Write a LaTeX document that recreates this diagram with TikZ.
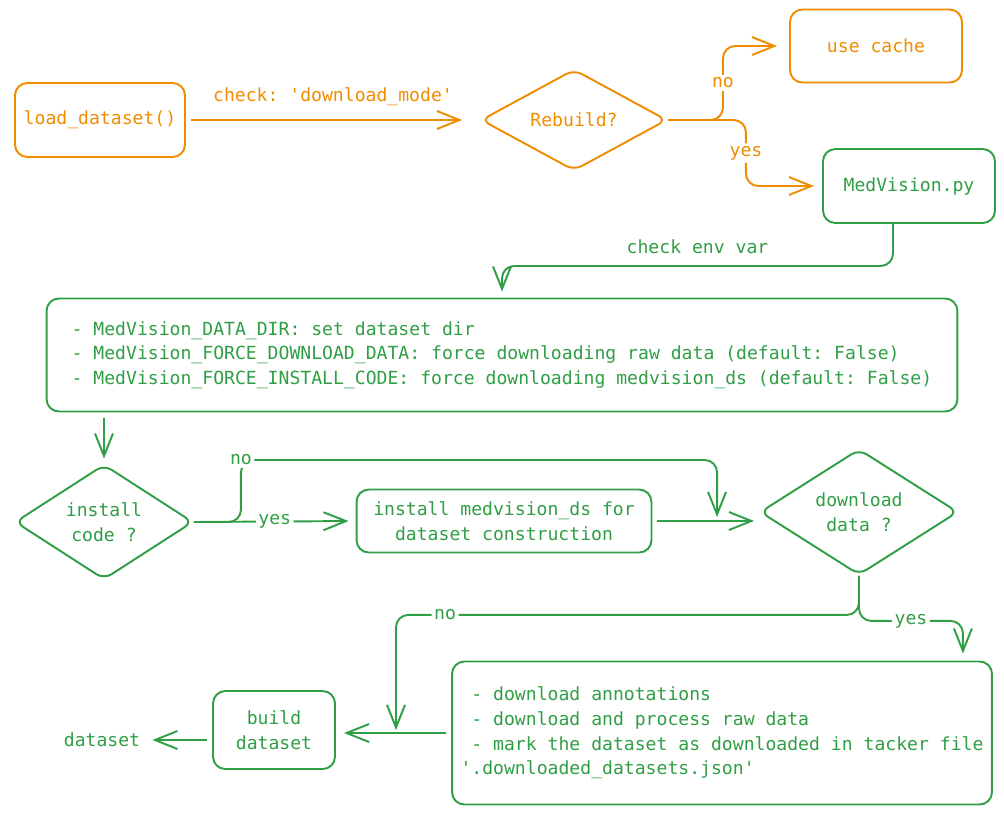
\documentclass[tikz,border=0pt]{standalone}
\usepackage{fontspec}
\setmonofont{DejaVu Sans Mono}
\usetikzlibrary{positioning, arrows.meta, shapes.geometric, calc}
\definecolor{exOrange}{HTML}{F08C00}
\definecolor{exGreen}{HTML}{2F9E44}

\begin{document}
\begin{tikzpicture}[
    x=0.02cm, y=-0.02cm,
    font=\ttfamily\fontsize{10.3}{14}\selectfont,
    >={Straight Barb[length=4.5mm, width=3.6mm]},
    box/.style={rounded corners=7pt, draw=#1, text=#1, line width=1.1pt,
        align=center, inner sep=4pt},
    decision/.style={diamond, rounded corners=5pt, draw=#1, text=#1,
        line width=1.1pt, align=center, inner sep=0pt},
    flow/.style={->, draw=#1, line width=1.1pt, rounded corners=7pt},
    tag/.style={fill=white, text=#1, inner sep=1.5pt}
  ]
    \useasboundingbox (0,0) rectangle (1004,816);
    % top row
    \node[box=exOrange, minimum width=3.4cm, minimum height=1.48cm] (load) at (100,120) {load\_dataset()};
    \node[decision=exOrange, minimum width=3.72cm, minimum height=2.02cm] (rebuild) at (574,120) {Rebuild?};
    \node[box=exOrange, minimum width=3.44cm, minimum height=1.46cm] (cache) at (876,46) {use cache};
    \node[box=exGreen, minimum width=3.44cm, minimum height=1.48cm] (medvision) at (909,186) {MedVision.py};
    \draw[flow=exOrange, shorten <=0.1cm, shorten >=0.36cm] (load) -- node[above=4pt, text=exOrange] {check: 'download\_mode'} (rebuild);
    \draw[flow=exOrange, shorten >=0.24cm] (rebuild.east) -- ++(55,0) |- node[tag=exOrange, pos=0.25] {no} (cache.west);
    \draw[flow=exOrange, shorten >=0.16cm] (rebuild.east) -- ++(78,0) |- node[tag=exOrange, pos=0.25] {yes} (medvision.west);
    % env vars
    \node[box=exGreen, minimum width=18.22cm, minimum height=2.26cm, align=left] (envvars) at (502,355)
        {- MedVision\_DATA\_DIR: set dataset dir\\
         - MedVision\_FORCE\_DOWNLOAD\_DATA: force downloading raw data (default: False)\\
         - MedVision\_FORCE\_INSTALL\_CODE: force downloading medvision\_ds (default: False)};
    \draw[flow=exGreen, shorten >=0.12cm] ([xshift=-0.32cm]medvision.south) -- ++(0,42) -| node[pos=0.25, above=3pt, text=exGreen] {check env var} (envvars.north);
    % install code
    \node[decision=exGreen, minimum width=3.56cm, minimum height=2.3cm] (installq) at (104,522) {install\\code ?};
    \node[box=exGreen, minimum width=5.9cm, minimum height=1.26cm] (installbox) at (504,521) {install medvision\_ds for\\dataset construction};
    \node[decision=exGreen, minimum width=3.96cm, minimum height=2.24cm] (downloadq) at (859,512) {download\\data ?};
    \coordinate (join) at ($(downloadq.west)+(-42,5)$);
    \draw[flow=exGreen, shorten <=0.12cm, shorten >=0.1cm] (envvars.south -| installq.north) -- (installq.north);
    \draw[flow=exGreen, shorten >=0.14cm] (installq.east) -- node[tag=exGreen] {yes} (installbox.west);
    \draw[flow=exGreen] (installq.east) -| ++(47,-62) node[tag=exGreen] {no} -| (join);
    \draw[flow=exGreen, shorten <=0.1cm, shorten >=0.1cm] (installbox.east) -- (installbox.east -| downloadq.west);
    % download
    \node[box=exGreen, minimum width=10.8cm, minimum height=2.86cm, align=left] (downloadbox) at (722,733)
        {\hphantom{x}- download annotations\\
         \hphantom{x}- download and process raw data\\
         \hphantom{x}- mark the dataset as downloaded in tacker file\\
         '.downloaded\_datasets.json'};
    \node[box=exGreen, minimum width=2.44cm, minimum height=1.56cm] (buildbox) at (274,730) {build\\dataset};
    \node[text=exGreen] (dataset) at (102,740) {dataset};
    \coordinate (merge) at (396,735);
    \draw[flow=exGreen, shorten >=0.14cm] (downloadq.south) -- ++(0,45) -| node[tag=exGreen, pos=0.25] {yes} ([xshift=-0.6cm]downloadbox.north east);
    \draw[flow=exGreen, shorten >=0.1cm] (downloadq.south) -- ++(0,39) -| node[tag=exGreen, pos=0.447] {no} (merge);
    \draw[flow=exGreen, shorten <=0.1cm, shorten >=0.16cm] (downloadbox.west) -- (downloadbox.west -| buildbox.east);
    \draw[flow=exGreen, shorten <=0.1cm, shorten >=0.12cm] (buildbox.west |- dataset) -- (dataset.east);
\end{tikzpicture}
\end{document}
